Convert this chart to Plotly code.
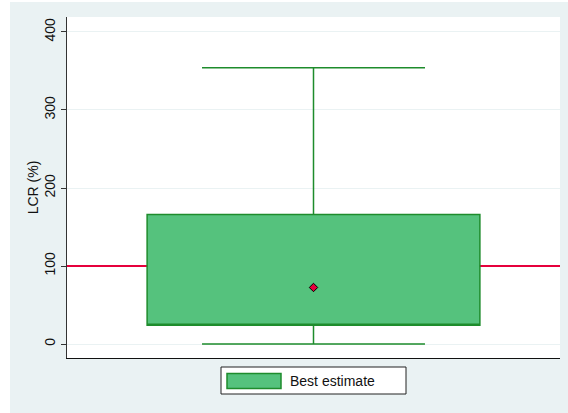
import plotly.graph_objects as go

# Data
category = ["Best estimate"]
lower_whisker = [0]
q1 = [24]
median = [24]
q3 = [166]
upper_whisker = [354]
mean_value = [72.5]
reference_value = 100
y_ticks = [0, 100, 200, 300, 400]
x_range = [-0.5, 0.5]
y_range = [-17.9, 419.2]

BG = "#EAF2F3"
BOX_FILL = "#55C27D"
BOX_LINE = "#1E8C2C"
RED = "#E6003C"
FONT = "Liberation Sans, Arial, sans-serif"

W, H = 568, 413
L, R, T, B = 67, 8, 17, 55
pw, ph = W - L - R, H - T - B

def px2x(px):
    return (px - L) / pw

def py2y(py):
    return (H - B - py) / ph

fig = go.Figure()

# reference line on the base axes (drawn beneath the overlaid box axes)
fig.add_trace(go.Scatter(
    x=x_range, y=[reference_value] * len(x_range), mode="lines",
    line=dict(color=RED, width=2), showlegend=False, hoverinfo="skip",
    xaxis="x", yaxis="y",
))

fig.add_trace(go.Box(
    x=[0], q1=q1, median=median, q3=q3,
    lowerfence=lower_whisker, upperfence=upper_whisker,
    name=category[0], width=0.675, whiskerwidth=0.67,
    fillcolor=BOX_FILL, line=dict(color=BOX_LINE, width=1.5),
    boxpoints=False, showlegend=False, hoverinfo="skip",
    xaxis="x2", yaxis="y2",
))

fig.add_trace(go.Scatter(
    x=[0], y=mean_value, mode="markers",
    marker=dict(symbol="diamond", size=6.5, color=RED,
                line=dict(color="black", width=1)),
    showlegend=False, hoverinfo="skip",
    xaxis="x2", yaxis="y2",
))

shapes = [
    # white outer margins (left and top)
    dict(type="rect", xref="paper", yref="paper", layer="above",
         x0=px2x(0), x1=px2x(10), y0=py2y(H), y1=py2y(0),
         fillcolor="white", line=dict(width=0)),
    dict(type="rect", xref="paper", yref="paper", layer="above",
         x0=px2x(0), x1=px2x(W), y0=py2y(2), y1=py2y(0),
         fillcolor="white", line=dict(width=0)),
    # legend frame
    dict(type="rect", xref="paper", yref="paper", layer="above",
         x0=px2x(221), x1=px2x(406), y0=py2y(394), y1=py2y(367),
         fillcolor="white", line=dict(color="#222222", width=1)),
    # legend swatch
    dict(type="rect", xref="paper", yref="paper", layer="above",
         x0=px2x(227), x1=px2x(281), y0=py2y(388.5), y1=py2y(373.5),
         fillcolor=BOX_FILL, line=dict(color=BOX_LINE, width=1.5)),
]
for s in shapes:
    fig.add_shape(**s)

fig.add_annotation(
    x=px2x(288), y=py2y(380.5), xref="paper", yref="paper",
    text=category[0], showarrow=False, xanchor="left", yanchor="middle",
    font=dict(family=FONT, size=14, color="#111111"),
)

fig.update_layout(
    width=W, height=H,
    margin=dict(l=L, r=R, t=T, b=B, pad=0),
    paper_bgcolor=BG, plot_bgcolor="white",
    showlegend=False,
    font=dict(family=FONT, size=14, color="#111111"),
    xaxis=dict(range=x_range, showgrid=False, zeroline=False,
               showticklabels=False, ticks="", showline=True,
               linecolor="#111111", linewidth=1.2, fixedrange=True),
    yaxis=dict(range=y_range, tickvals=y_ticks,
               ticktext=[str(v) for v in y_ticks], tickangle=-90,
               ticks="outside", ticklen=5, tickcolor="#333333",
               showgrid=True, gridcolor=BG, gridwidth=1.2,
               zeroline=False, showline=True, linecolor="#333333",
               linewidth=1.2, title=dict(text="LCR (%)", standoff=0,
               font=dict(size=14)), fixedrange=True),
    xaxis2=dict(range=x_range, overlaying="x", visible=False,
                showgrid=False, zeroline=False, fixedrange=True),
    yaxis2=dict(range=y_range, overlaying="y", visible=False,
                showgrid=False, zeroline=False, fixedrange=True),
)

fig.write_html("out.html", config={"displayModeBar": False},
               post_script="document.body.style.margin='0';document.body.style.overflow='hidden';")
